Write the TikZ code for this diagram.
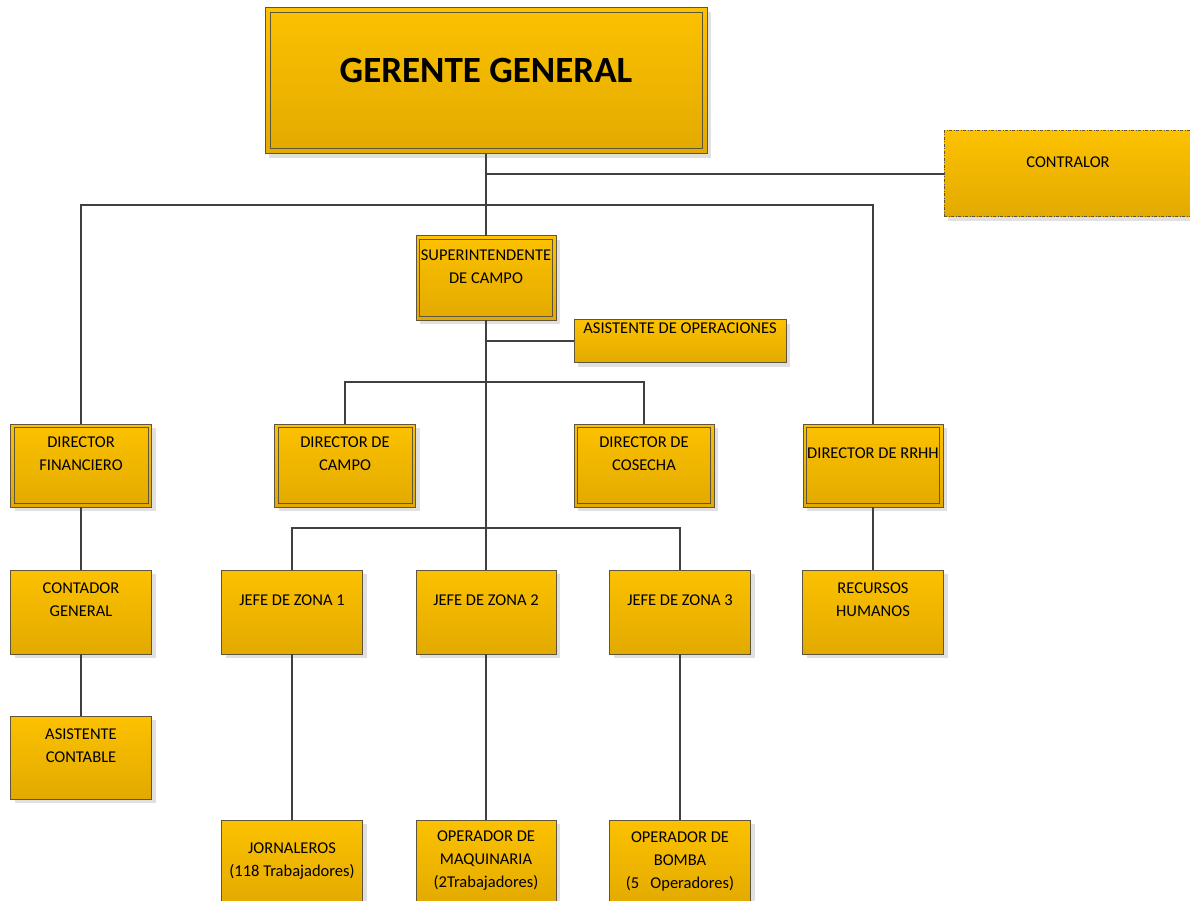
\documentclass[tikz,border=0pt]{standalone}
\usepackage{fontspec}
\setmainfont{Carlito}
\usetikzlibrary{shadows}
\definecolor{boxtop}{RGB}{252,193,0}
\definecolor{boxbot}{RGB}{226,170,0}
\definecolor{boxline}{RGB}{95,85,60}
\definecolor{conline}{RGB}{64,64,64}
\begin{document}
\begin{tikzpicture}[x=1pt,y=-1pt,
  box/.style={draw=boxline, line width=1pt, top color=boxtop, bottom color=boxbot,
    inner sep=0pt, outer sep=0pt,
    drop shadow={shadow xshift=4pt, shadow yshift=-4pt, fill=black!12, opacity=1}},
  std/.style={box, minimum width=141pt, minimum height=84pt},
  txt/.style={font=\fontsize{16.5}{23}\selectfont, align=center, inner sep=0pt},
  conn/.style={draw=conline, line width=2pt}]
\useasboundingbox (0,0) rectangle (1190,901);

% boxes
\node[box, minimum width=442pt, minimum height=146pt] (gg) at (486,81) {};
\node[box, minimum width=248pt, minimum height=86pt,
      dash pattern=on 3pt off 1.5pt on 1pt off 1.5pt] (contr) at (1068,174) {};
\node[std, minimum width=140pt] (sup) at (486,278) {};
\node[box, minimum width=212pt, minimum height=43pt] (asop) at (680,341) {};
\node[std, minimum height=83pt] (dfin) at (81,465.5) {};
\node[std, minimum height=83pt] (dcam) at (345,465.5) {};
\node[std, minimum width=140pt, minimum height=83pt] (dcos) at (644,465.5) {};
\node[std, minimum width=140pt, minimum height=83pt] (drrhh) at (873,465.5) {};
\node[std] (cont) at (81,612) {};
\node[std] (jz1) at (292,612) {};
\node[std, minimum width=140pt] (jz2) at (486,612) {};
\node[std] (jz3) at (680,612) {};
\node[std] (rh) at (873,612) {};
\node[std, minimum height=83pt] (asc) at (81,757.5) {};
\node[std, minimum height=86pt] (jor) at (292,863) {};
\node[std, minimum width=140pt, minimum height=86pt] (opm) at (486,863) {};
\node[std, minimum height=86pt] (opb) at (680,863) {};

% inner lines of double-bordered boxes
\draw[boxline, line width=1pt] ([shift={(5,5)}]gg.north west) rectangle ([shift={(-5,-5)}]gg.south east);
\foreach \n in {sup,dfin,dcam,dcos,drrhh}
  \draw[boxline, line width=0.8pt] ([shift={(3.5,3.5)}]\n.north west) rectangle ([shift={(-3.5,-3.5)}]\n.south east);

% texts
\node[txt, font=\fontsize{37}{44}\selectfont\bfseries] (ggT) at ([shift={(0,62)}]gg.north) {GERENTE GENERAL};
\node[txt] (contrT) at ([shift={(0,31)}]contr.north) {CONTRALOR};
\node[txt] (supT) at ([shift={(0,31)}]sup.north) {SUPERINTENDENTE\\DE CAMPO};
\node[txt] (asopT) at ([shift={(0,9)}]asop.north) {ASISTENTE DE OPERACIONES};
\node[txt] (dfinT) at ([shift={(0,29.5)}]dfin.north) {DIRECTOR\\FINANCIERO};
\node[txt] (dcamT) at ([shift={(0,29.5)}]dcam.north) {DIRECTOR DE\\CAMPO};
\node[txt] (dcosT) at ([shift={(0,29.5)}]dcos.north) {DIRECTOR DE\\COSECHA};
\node[txt] (drrhhT) at ([shift={(0,29)}]drrhh.north) {DIRECTOR DE RRHH};
\node[txt] (contT) at ([shift={(0,29.5)}]cont.north) {CONTADOR\\GENERAL};
\node[txt] (jz1T) at ([shift={(0,30)}]jz1.north) {JEFE DE ZONA 1};
\node[txt] (jz2T) at ([shift={(0,30)}]jz2.north) {JEFE DE ZONA 2};
\node[txt] (jz3T) at ([shift={(0,30)}]jz3.north) {JEFE DE ZONA 3};
\node[txt] (rhT) at ([shift={(0,29.5)}]rh.north) {RECURSOS\\HUMANOS};
\node[txt] (ascT) at ([shift={(0,29.5)}]asc.north) {ASISTENTE\\CONTABLE};
\node[txt] (jorT) at ([shift={(0,41)}]jor.north) {JORNALEROS\\(118 Trabajadores)};
\node[txt] (opmT) at ([shift={(0,41)}]opm.north) {OPERADOR DE\\MAQUINARIA\\(2Trabajadores)};
\node[txt] (opbT) at ([shift={(0,41)}]opb.north) {OPERADOR DE\\BOMBA\\(5~~~Operadores)};

% junctions
\coordinate (j1) at (486,174);
\coordinate (j2) at (486,205);
\coordinate (j3) at (486,341);
\coordinate (j4) at (486,382);
\coordinate (j5) at (486,528);

% connectors
\draw[conn] (gg.south) -- (sup.north);
\draw[conn] (j1) -- (contr.west);
\draw[conn] (dfin.north) |- (j2) -| (drrhh.north);
\draw[conn] (sup.south) -- (j5);
\draw[conn] (j3) -- (asop.west);
\draw[conn] (dcam.north) |- (j4) -| (dcos.north);
\draw[conn] (jz1.north) |- (j5) -| (jz3.north);
\draw[conn] (j5) -- (jz2.north);
\draw[conn] (dfin.south) -- (cont.north);
\draw[conn] (cont.south) -- (asc.north);
\draw[conn] (drrhh.south) -- (rh.north);
\draw[conn] (jz1.south) -- (jor.north);
\draw[conn] (jz2.south) -- (opm.north);
\draw[conn] (jz3.south) -- (opb.north);
\end{tikzpicture}
\end{document}
